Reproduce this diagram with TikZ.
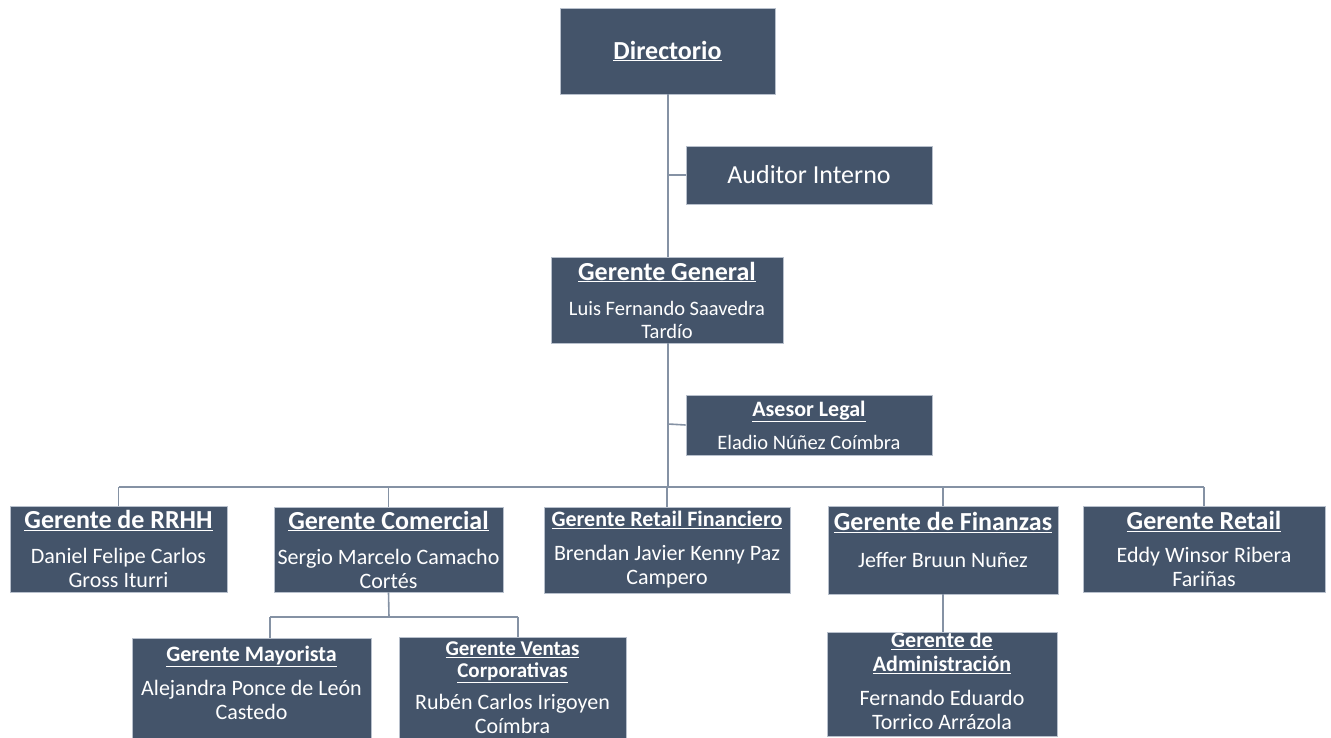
\documentclass[tikz,border=0pt]{standalone}
\usepackage{fontspec}
\setmainfont{Carlito}
\definecolor{boxfill}{HTML}{44546A}
\definecolor{linec}{HTML}{8592A4}
\definecolor{boxedge}{HTML}{B8C0CC}
\newcommand{\tbig}[1]{{\fontsize{26}{24}\selectfont\bfseries\underline{#1}}}
\newcommand{\tsml}[1]{{\fontsize{22}{24}\selectfont\bfseries\underline{#1}}}
\newcommand{\tven}[1]{{\fontsize{21}{23}\selectfont\bfseries\underline{#1}}}
\begin{document}
\begin{tikzpicture}[x=1pt,y=-1pt,
  box/.style={draw=boxedge, line width=0.8pt, fill=boxfill, text=white, align=center, inner sep=0pt,
    font={\fontsize{22}{24}\selectfont}},
  boxs/.style={box, font={\fontsize{20.5}{23}\selectfont}},
  conn/.style={draw=linec, line width=1.6pt}]
\useasboundingbox (0,0) rectangle (1331,738);

\node[box, minimum width=215pt, minimum height=86pt] (dir) at (667.5,51) {\tbig{Directorio}};
\node[box, minimum width=246pt, minimum height=58pt, font={\fontsize{26}{28}\selectfont}] (aud) at (809,175) {Auditor Interno};
\node[boxs, minimum width=232pt, minimum height=86pt] (gg) at (667,300)
  {\tbig{Gerente General}\\[12pt]Luis Fernando Saavedra\\Tardío};
\node[boxs, minimum width=246pt, minimum height=60pt] (leg) at (809,425)
  {\tsml{Asesor Legal}\\[10pt]Eladio Núñez Coímbra};

\node[box, minimum width=217pt, minimum height=86pt] (rrhh) at (118.5,549)
  {\tbig{Gerente de RRHH}\\[11pt]Daniel Felipe Carlos\\Gross Iturri};
\node[box, minimum width=229pt, minimum height=85pt] (com) at (388.5,549.5)
  {\tbig{Gerente Comercial}\\[11pt]Sergio Marcelo Camacho\\Cortés};
\node[box, minimum width=246pt, minimum height=86pt] (rf) at (667,550)
  {\tsml{Gerente Retail Financiero}\\[10pt]Brendan Javier Kenny Paz\\Campero};
\node[box, minimum width=230pt, minimum height=88pt] (fin) at (943,550)
  {\tbig{Gerente de Finanzas}\\[13pt]Jeffer Bruun Nuñez\rule[-21pt]{0pt}{0pt}};
\node[box, minimum width=242pt, minimum height=86pt] (ret) at (1204,549)
  {\tbig{Gerente Retail}\\[9pt]Eddy Winsor Ribera\\Fariñas};

\node[box, minimum width=239pt, minimum height=100pt] (may) at (251.5,688)
  {\tsml{Gerente Mayorista}\\[10pt]Alejandra Ponce de León\\Castedo\rule[-10pt]{0pt}{0pt}};
\node[box, minimum width=227pt, minimum height=101pt] (ven) at (512.5,687.5)
  {\tven{Gerente Ventas}\\[-2pt]\tven{Corporativas}\\[8pt]Rubén Carlos Irigoyen\\Coímbra};
\node[box, minimum width=230pt, minimum height=103pt] (adm) at (942,684.5)
  {\tsml{Gerente de}\\\tsml{Administración}\\[10pt]Fernando Eduardo\\Torrico Arrázola\rule[-7pt]{0pt}{0pt}};

\coordinate (bus) at (668,487);
\coordinate (sub) at (389,617);
\coordinate (auj) at (668,175);
\coordinate (lej) at (668,424);

\draw[conn] (668,94) -- (668,257);
\draw[conn] (auj) -- (aud.west);
\draw[conn] (lej) -- (leg.west);
\draw[conn] (668,343) -- (bus);
\draw[conn] (rrhh.north |- bus) -- (ret.north |- bus);
\foreach \n in {rrhh,com,rf,fin,ret} \draw[conn] (\n.north |- bus) -- (\n.north);
\draw[conn] (com.south) -- (sub);
\draw[conn] (270,617) -- (518,617);
\draw[conn] (270,617) -- (270,638);
\draw[conn] (518,617) -- (518,637);
\draw[conn] (fin.south) -- (adm.north -| fin.south);
\end{tikzpicture}
\end{document}
